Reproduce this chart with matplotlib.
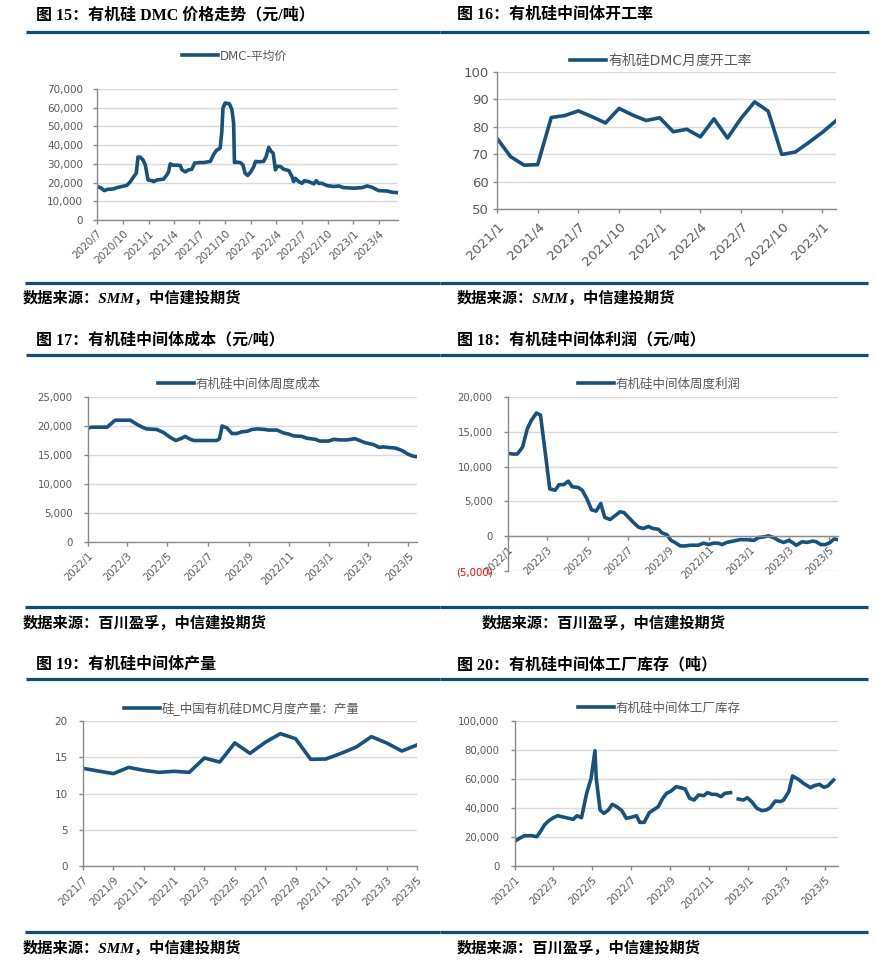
import matplotlib
matplotlib.use('Agg')
import matplotlib.pyplot as plt
from matplotlib.lines import Line2D
from matplotlib.ticker import FuncFormatter
import numpy as np
import pandas as pd

# ---------------- data ----------------
dmc_dates = ['2020-07-01','2020-07-13','2020-07-27','2020-08-08','2020-08-29','2020-09-10','2020-09-28','2020-10-16',
             '2020-10-28','2020-11-09','2020-11-18','2020-11-24','2020-12-02','2020-12-12','2020-12-20','2020-12-30',
             '2021-01-13','2021-01-19','2021-01-31','2021-02-23','2021-03-07','2021-03-13','2021-03-19','2021-03-29',
             '2021-04-12','2021-04-24','2021-04-30','2021-05-12','2021-05-23','2021-06-04','2021-06-14','2021-07-02',
             '2021-07-16','2021-08-09','2021-08-20','2021-08-30','2021-09-13','2021-09-19','2021-09-23','2021-10-01',
             '2021-10-16','2021-10-25','2021-10-31','2021-11-03','2021-11-12','2021-11-23','2021-12-03','2021-12-11',
             '2021-12-20','2022-01-01','2022-01-11','2022-01-17','2022-01-29','2022-02-15','2022-02-24','2022-03-05',
             '2022-03-14','2022-03-21','2022-03-29','2022-04-04','2022-04-16','2022-04-28','2022-05-16','2022-05-27',
             '2022-06-02','2022-06-08','2022-06-20','2022-07-02','2022-07-10','2022-07-26','2022-08-13','2022-08-22',
             '2022-08-30','2022-09-11','2022-09-29','2022-10-23','2022-11-10','2022-11-27','2023-01-02','2023-02-01',
             '2023-02-19','2023-03-08','2023-04-01','2023-05-01','2023-05-19','2023-06-08']
dmc_price = [17900,17300,15700,16400,16600,17300,17900,18600,20500,23200,25000,33600,33600,32100,29500,21400,
             21000,20500,21400,21800,24100,25700,30000,29300,29300,29100,26800,25700,26800,27100,30400,30700,
             30700,31300,34800,37100,38400,47300,59800,62500,62100,58900,51800,30700,30900,30700,29500,25000,
             23800,25900,28600,31300,31100,31300,33900,38800,36600,35700,26800,28600,28600,27100,26400,23200,
             20500,22300,20500,19600,21000,20500,19300,21000,19600,19600,18400,17900,18200,17300,17000,17300,
             18200,17500,15700,15500,14800,14600]
dmc_ticks = ['2020-07-01','2020-10-01','2021-01-01','2021-04-01','2021-07-01','2021-10-01','2022-01-01',
             '2022-04-01','2022-07-01','2022-10-01','2023-01-01','2023-04-01']
dmc_tick_labels = ['2020/7','2020/10','2021/1','2021/4','2021/7','2021/10','2022/1','2022/4','2022/7',
                   '2022/10','2023/1','2023/4']

rate_months = ['2021/1','2021/2','2021/3','2021/4','2021/5','2021/6','2021/7','2021/8','2021/9','2021/10',
               '2021/11','2021/12','2022/1','2022/2','2022/3','2022/4','2022/5','2022/6','2022/7','2022/8',
               '2022/9','2022/10','2022/11','2022/12','2023/1','2023/2']
op_rate = [75.8,69.1,66.0,66.2,83.4,84.1,85.8,83.7,81.4,86.7,84.3,82.3,83.3,78.2,79.1,76.3,82.9,75.9,83.1,
           89.1,85.7,69.9,70.8,74.3,78.0,82.2]

cost_dates = ['2022-01-01','2022-01-07','2022-01-20','2022-01-30','2022-02-05','2022-02-11','2022-03-06','2022-03-13',
              '2022-03-19','2022-03-26','2022-03-31','2022-04-15','2022-04-25','2022-05-06','2022-05-14','2022-05-21',
              '2022-05-28','2022-06-05','2022-06-10','2022-07-15','2022-07-19','2022-07-23','2022-07-30','2022-08-07',
              '2022-08-14','2022-08-22','2022-08-30','2022-09-06','2022-09-14','2022-09-26','2022-10-01','2022-10-14',
              '2022-10-24','2022-11-01','2022-11-08','2022-11-21','2022-11-28','2022-12-11','2022-12-18','2022-12-31',
              '2023-01-08','2023-01-18','2023-01-28','2023-02-09','2023-02-14','2023-02-25','2023-03-09','2023-03-18',
              '2023-03-24','2023-04-01','2023-04-11','2023-04-21','2023-05-01','2023-05-08','2023-05-14']
cost = [19660,19800,19800,19800,20400,21000,21000,20500,20100,19700,19500,19400,18900,18000,17500,17800,
        18200,17700,17500,17500,17800,20000,19700,18700,18700,19000,19100,19400,19500,19400,19300,19300,
        18800,18600,18300,18200,17900,17700,17400,17400,17700,17600,17600,17800,17600,17100,16800,16300,
        16400,16300,16200,15800,15100,14800,14700]

profit_dates = ['2022-01-01','2022-01-09','2022-01-15','2022-01-23','2022-01-30','2022-02-05','2022-02-13','2022-02-19',
                '2022-02-27','2022-03-05','2022-03-13','2022-03-19','2022-03-26','2022-04-02','2022-04-08','2022-04-17',
                '2022-04-23','2022-04-30','2022-05-07','2022-05-14','2022-05-21','2022-05-27','2022-06-04','2022-06-11',
                '2022-06-19','2022-06-25','2022-07-02','2022-07-09','2022-07-17','2022-07-24','2022-08-01','2022-08-08',
                '2022-08-16','2022-08-21','2022-08-29','2022-09-04','2022-09-10','2022-09-18','2022-09-25','2022-10-03',
                '2022-10-15','2022-10-23','2022-10-31','2022-11-07','2022-11-14','2022-11-20','2022-11-27','2022-12-07',
                '2022-12-17','2022-12-28','2023-01-07','2023-01-14','2023-01-22','2023-01-29','2023-02-06','2023-02-13',
                '2023-02-21','2023-03-01','2023-03-06','2023-03-12','2023-03-21','2023-03-28','2023-04-06','2023-04-11',
                '2023-04-18','2023-04-25','2023-05-02','2023-05-08','2023-05-14']
profit = [11900,11800,11800,12800,15400,16600,17700,17400,11400,6800,6600,7400,7400,7900,7100,7000,
          6600,5400,3800,3600,4700,2700,2400,2900,3500,3400,2700,2000,1300,1100,1400,1100,
          1000,500,200,-600,-900,-1400,-1400,-1300,-1300,-1000,-1200,-1000,-1000,-1200,-900,-700,
          -500,-500,-600,-200,-100,50,-200,-600,-900,-600,-900,-1300,-800,-900,-700,-800,
          -1200,-1200,-900,-400,-500]

weekly_ticks = ['2022-01-01','2022-03-01','2022-05-01','2022-07-01','2022-09-01','2022-11-01','2023-01-01',
                '2023-03-01','2023-05-01']
weekly_tick_labels = ['2022/1','2022/3','2022/5','2022/7','2022/9','2022/11','2023/1','2023/3','2023/5']

prod_months = ['2021/7','2021/8','2021/9','2021/10','2021/11','2021/12','2022/1','2022/2','2022/3','2022/4',
               '2022/5','2022/6','2022/7','2022/8','2022/9','2022/10','2022/11','2022/12','2023/1','2023/2',
               '2023/3','2023/4','2023/5']
production = [13.47,13.1,12.74,13.6,13.2,12.92,13.06,12.92,14.9,14.34,16.97,15.54,17.06,18.25,17.56,14.71,
              14.76,15.54,16.41,17.84,16.97,15.86,16.69]

inv_dates = ['2022-01-01','2022-01-08','2022-01-16','2022-01-27','2022-02-04','2022-02-09','2022-02-16','2022-02-23',
             '2022-03-02','2022-03-09','2022-03-15','2022-03-22','2022-04-02','2022-04-08','2022-04-15','2022-04-23',
             '2022-04-30','2022-05-06','2022-05-08','2022-05-14','2022-05-20','2022-05-27','2022-06-02','2022-06-09',
             '2022-06-17','2022-06-24','2022-07-02','2022-07-10','2022-07-15','2022-07-22','2022-07-30','2022-08-05',
             '2022-08-13','2022-08-20','2022-08-26','2022-09-02','2022-09-10','2022-09-17','2022-09-24','2022-10-01',
             '2022-10-08','2022-10-15','2022-10-23','2022-10-29','2022-11-05','2022-11-12','2022-11-19','2022-11-25',
             '2022-12-04','2022-12-10','2022-12-16','2022-12-24','2022-12-30','2023-01-06','2023-01-14','2023-01-22',
             '2023-01-29','2023-02-04','2023-02-12','2023-02-20','2023-02-25','2023-03-05','2023-03-11','2023-03-20',
             '2023-03-28','2023-04-08','2023-04-14','2023-04-22','2023-04-29','2023-05-05','2023-05-14']
inventory = [17200,19100,20900,20900,20200,23200,28300,31300,33300,34700,34000,33300,32200,34700,33300,50100,
             60500,79500,60500,38600,36300,38600,42500,40900,38200,32900,33600,34700,30100,30100,36800,38600,
             40900,46700,50100,51700,54700,54000,53100,46700,45500,49000,48500,50600,49400,49400,47800,50100,
             50600,np.nan,46200,45500,47100,44400,39800,38200,38600,40200,44800,44400,45500,51300,62100,59800,
             57000,54000,55400,56300,54300,55200,59300]

titles = ['图 15：有机硅 DMC 价格走势（元/吨）', '图 16：有机硅中间体开工率',
          '图 17：有机硅中间体成本（元/吨）', '图 18：有机硅中间体利润（元/吨）',
          '图 19：有机硅中间体产量', '图 20：有机硅中间体工厂库存（吨）']
legend_labels = ['DMC-平均价', '有机硅DMC月度开工率', '有机硅中间体周度成本', '有机硅中间体周度利润',
                 '硅_中国有机硅DMC月度产量：产量', '有机硅中间体工厂库存']
src_smm = '数据来源：SMM，中信建投期货'
src_bc = '数据来源：百川盈孚，中信建投期货'

# ---------------- style ----------------
plt.rcParams['font.family'] = ['DejaVu Sans', 'Noto Sans CJK SC']
W, H = 879, 963
fig = plt.figure(figsize=(W / 100, H / 100), dpi=100)
fig.patch.set_facecolor('white')

LINE = '#17527f'
RULE = '#0d4c7e'
TICKC = '#595959'
GRID = '#d9d9d9'
SPINE = '#8a8a8a'
TITLEF = ['Liberation Serif', 'Noto Sans CJK SC']


def fx(x):
    return x / W


def fy(y):
    return 1 - y / H


def make_axes(l, t, r, b):
    ax = fig.add_axes([fx(l), fy(b), (r - l) / W, (b - t) / H])
    for s in ('top', 'right'):
        ax.spines[s].set_visible(False)
    for s in ('left', 'bottom'):
        ax.spines[s].set_color(SPINE)
        ax.spines[s].set_linewidth(1.0)
    ax.grid(axis='y', color=GRID, lw=1.0)
    ax.grid(axis='x', visible=False)
    ax.set_axisbelow(True)
    return ax


def finish_ticks(ax, fs, ypad=8, xpad=3):
    ax.tick_params(axis='y', length=3, width=1, color=SPINE, labelcolor=TICKC, labelsize=fs, pad=ypad)
    ax.tick_params(axis='x', length=3, width=1, color=SPINE, labelcolor=TICKC, labelsize=fs, pad=xpad)
    for lab in ax.get_xticklabels():
        lab.set_rotation(45)
        lab.set_ha('right')
        lab.set_va('top')
        lab.set_rotation_mode('anchor')


def add_legend(ax, label, x, y, fs):
    h = Line2D([], [], color=LINE, lw=2.6)
    hl = 36 / (fs * 100 / 72)
    ax.legend([h], [label], loc='center left', bbox_to_anchor=(fx(x), fy(y)),
              bbox_transform=fig.transFigure, frameon=False, fontsize=fs,
              handlelength=hl, handletextpad=0.15, borderpad=0, borderaxespad=0,
              labelcolor=TICKC)


def rule(x0, x1, y):
    fig.add_artist(Line2D([fx(x0), fx(x1)], [fy(y), fy(y)], transform=fig.transFigure,
                          color=RULE, lw=2.3, solid_capstyle='butt'))


def title(x, y, text):
    fig.text(fx(x), fy(y), text, fontsize=11.5, fontweight='bold', family=TITLEF,
             ha='left', va='center', color='black')


def source(x, y, text):
    fig.text(fx(x), fy(y), text, fontsize=11, fontweight='bold', style='italic', family=TITLEF,
             ha='left', va='center', color='black')


thousands = FuncFormatter(lambda v, p: f'{v:,.0f}')

# ---------- frame: titles, rules, sources ----------
for (x, y), t in zip([(36, 15), (457, 15), (36, 340), (457, 340), (36, 665), (457, 665)], titles):
    title(x, y, t)
rule(26, 440, 32); rule(440, 869, 32)
rule(26, 440, 355); rule(440, 868, 355)
rule(26, 440, 679); rule(440, 868, 679)
rule(25, 440, 283); rule(440, 868, 283)
rule(25, 440, 607); rule(440, 868, 607)
rule(25, 440, 932); rule(440, 868, 932)
source(23, 298, src_smm); source(457, 298, src_smm)
source(23, 623, src_bc); source(482, 623, src_bc)
source(23, 948, src_smm); source(457, 948, src_bc)

# ---------- Fig 15 ----------
ax1 = make_axes(97, 89, 398, 220)
ax1.plot(pd.to_datetime(dmc_dates), dmc_price, color=LINE, lw=2.6, solid_joinstyle='round')
ax1.set_ylim(0, 70000)
ax1.set_yticks(np.arange(0, 70001, 10000))
ax1.yaxis.set_major_formatter(thousands)
ax1.set_xlim(pd.Timestamp('2020-07-01'), pd.Timestamp('2023-06-09'))
ax1.set_xticks(pd.to_datetime(dmc_ticks))
ax1.set_xticklabels(dmc_tick_labels)
finish_ticks(ax1, 7.5, ypad=7)
add_legend(ax1, legend_labels[0], 182, 56, 8.5)

# ---------- Fig 16 ----------
ax2 = make_axes(497, 72, 836, 209)
ax2.plot(range(len(op_rate)), op_rate, color=LINE, lw=2.6, solid_joinstyle='round')
ax2.set_ylim(50, 100)
ax2.set_yticks(np.arange(50, 101, 10))
ax2.set_xlim(0, len(op_rate) - 1)
ax2.set_xticks(range(0, len(op_rate), 3))
ax2.set_xticklabels(rate_months[::3])
finish_ticks(ax2, 9.5, ypad=3, xpad=5)
add_legend(ax2, legend_labels[1], 570, 61, 10)

# ---------- Fig 17 ----------
ax3 = make_axes(88, 397, 417, 542)
ax3.plot(pd.to_datetime(cost_dates), cost, color=LINE, lw=2.6, solid_joinstyle='round')
ax3.set_ylim(0, 25000)
ax3.set_yticks(np.arange(0, 25001, 5000))
ax3.yaxis.set_major_formatter(thousands)
ax3.set_xlim(pd.Timestamp('2022-01-01'), pd.Timestamp('2023-05-14'))
ax3.set_xticks(pd.to_datetime(weekly_ticks))
ax3.set_xticklabels(weekly_tick_labels)
finish_ticks(ax3, 7.3)
add_legend(ax3, legend_labels[2], 158, 384, 9)

# ---------- Fig 18 ----------
ax4 = make_axes(508, 397, 838, 571)
ax4.plot(pd.to_datetime(profit_dates), profit, color=LINE, lw=2.6, solid_joinstyle='round')
ax4.set_ylim(-5000, 20000)
ax4.set_yticks(np.arange(-5000, 20001, 5000))
ax4.yaxis.set_major_formatter(FuncFormatter(lambda v, p: f'({abs(v):,.0f})' if v < 0 else f'{v:,.0f}'))
ax4.spines['bottom'].set_position(('data', 0))
ax4.set_xlim(pd.Timestamp('2022-01-01'), pd.Timestamp('2023-05-14'))
ax4.set_xticks(pd.to_datetime(weekly_ticks))
ax4.set_xticklabels(weekly_tick_labels)
finish_ticks(ax4, 7.3)
for lab, v in zip(ax4.get_yticklabels(), ax4.get_yticks()):
    if v < 0:
        lab.set_color('#ff0000')
add_legend(ax4, legend_labels[3], 578, 384, 9)

# ---------- Fig 19 ----------
ax5 = make_axes(83, 721, 417, 866)
ax5.plot(range(len(production)), production, color=LINE, lw=2.6, solid_joinstyle='round')
ax5.set_ylim(0, 20)
ax5.set_yticks(np.arange(0, 21, 5))
ax5.set_xlim(0, len(production) - 1)
ax5.set_xticks(range(0, len(production), 2))
ax5.set_xticklabels(prod_months[::2])
finish_ticks(ax5, 7.5)
add_legend(ax5, legend_labels[4], 124, 708, 9)

# ---------- Fig 20 ----------
ax6 = make_axes(515, 721, 838, 866)
ax6.plot(pd.to_datetime(inv_dates), inventory, color=LINE, lw=2.6, solid_joinstyle='round')
ax6.set_ylim(0, 100000)
ax6.set_yticks(np.arange(0, 100001, 20000))
ax6.yaxis.set_major_formatter(thousands)
ax6.set_xlim(pd.Timestamp('2022-01-01'), pd.Timestamp('2023-05-21'))
ax6.set_xticks(pd.to_datetime(weekly_ticks))
ax6.set_xticklabels(weekly_tick_labels)
finish_ticks(ax6, 7.3)
add_legend(ax6, legend_labels[5], 578, 708, 9)

fig.savefig('out.png', dpi=100, facecolor='white')
